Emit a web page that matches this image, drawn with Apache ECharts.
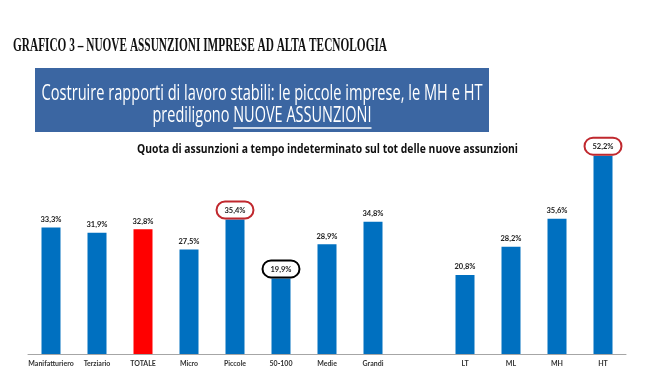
<!DOCTYPE html>
<html><head><meta charset="utf-8">
<script src="https://cdn.jsdelivr.net/npm/echarts@6/dist/echarts.min.js"></script>
<style>html,body{margin:0;padding:0;background:#fff}#c{width:671px;height:377px}</style>
</head><body><div id="c"></div>
<script>
// ---- data ----
const categories = ['Manifatturiero','Terziario','TOTALE','Micro','Piccole','50-100','Medie','Grandi','','LT','ML','MH','HT'];
const values = [33.3,31.9,32.8,27.5,35.4,19.9,28.9,34.8,null,20.8,28.2,35.6,52.2];
const totalCategory = 'TOTALE';
const redCircled = ['Piccole','HT'];
const blackCircled = ['50-100'];
const titleText = 'GRAFICO 3 \u2013 NUOVE ASSUNZIONI IMPRESE AD ALTA TECNOLOGIA';
const bannerLine1 = 'Costruire rapporti di lavoro stabili: le piccole imprese, le MH e HT';
const bannerLine2a = 'prediligono ';
const bannerLine2b = 'NUOVE ASSUNZIONI';
const subtitleText = 'Quota di assunzioni a tempo indeterminato sul tot delle nuove assunzioni';

// ---- helpers ----
const ctx = document.createElement('canvas').getContext('2d');
function measure(text, font){ ctx.font = font; return ctx.measureText(text).width; }
const fmt = v => v.toFixed(1).replace('.', ',') + '%';

const titleFont = 'bold 18.5px "Liberation Serif"';
const titleScale = 374 / measure(titleText, titleFont);
const bannerFont = '22px "Open Sans"';
const b1Scale = 441 / measure(bannerLine1, bannerFont);
const l2full = bannerLine2a + bannerLine2b;
const b2Scale = 219 / measure(l2full, bannerFont);
const subFont = 'bold 11.5px "Open Sans"';
const subScale = 381 / measure(subtitleText, subFont);

const bannerCx = 262;
const l2w = measure(l2full, bannerFont) * b2Scale;
const ulStart = bannerCx - l2w / 2 + measure(bannerLine2a, bannerFont) * b2Scale;
const ulEnd = bannerCx + l2w / 2;

const seriesData = values.map((v, i) => {
  const c = categories[i];
  const item = { value: v, itemStyle: { color: c === totalCategory ? '#FF0000' : '#0070C0' } };
  if (redCircled.includes(c) || blackCircled.includes(c)) {
    item.label = {
      borderColor: redCircled.includes(c) ? '#C0282E' : '#000000',
      borderWidth: 2,
      borderRadius: 12,
      padding: [5, 8, 4, 8],
      distance: 1
    };
  }
  return item;
});

const chart = echarts.init(document.getElementById('c'));
chart.setOption({
  backgroundColor: '#ffffff',
  animation: false,
  grid: { left: 28, right: 45, top: 126, bottom: 23 },
  xAxis: {
    type: 'category',
    data: categories,
    axisLine: { lineStyle: { color: '#A6A6A6', width: 1 } },
    axisTick: { show: false },
    axisLabel: { interval: 0, fontSize: 7, fontWeight: 'bold', fontFamily: 'Lato', color: '#333333', margin: 6 }
  },
  yAxis: { type: 'value', min: 0, max: 60, show: false, splitLine: { show: false } },
  series: [{
    type: 'bar',
    data: seriesData,
    barWidth: 19,
    label: {
      show: true,
      position: 'top',
      distance: 4,
      fontSize: 7.5,
      fontWeight: 'bold',
      fontFamily: 'Lato',
      color: '#1a1a1a',
      formatter: p => (p.value == null ? '' : fmt(p.value))
    }
  }],
  graphic: [
    { type: 'text', x: 13, y: 46, scaleX: titleScale,
      style: { text: titleText, font: titleFont, fill: '#111111', textVerticalAlign: 'middle', textAlign: 'left' } },
    { type: 'rect', shape: { x: 35, y: 68, width: 454, height: 64 }, style: { fill: '#3B66A2' } },
    { type: 'text', x: bannerCx, y: 94, scaleX: b1Scale,
      style: { text: bannerLine1, font: bannerFont, fill: '#ffffff', textAlign: 'center', textVerticalAlign: 'middle' } },
    { type: 'text', x: bannerCx, y: 116, scaleX: b2Scale,
      style: { text: l2full, font: bannerFont, fill: '#ffffff', textAlign: 'center', textVerticalAlign: 'middle' } },
    { type: 'line', shape: { x1: ulStart, y1: 128, x2: ulEnd, y2: 128 }, style: { stroke: '#ffffff', lineWidth: 1.5 } },
    { type: 'text', x: 327.5, y: 150, scaleX: subScale,
      style: { text: subtitleText, font: subFont, fill: '#111111', textAlign: 'center', textVerticalAlign: 'middle' } }
  ]
});
</script>
</body></html>
